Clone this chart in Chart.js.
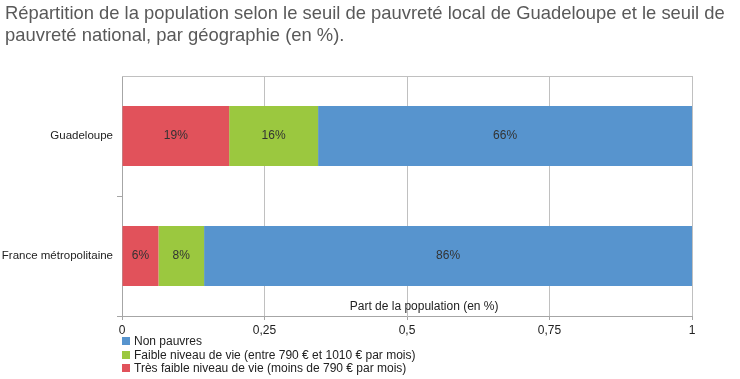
<!DOCTYPE html>
<html>
<head>
<meta charset="utf-8">
<script src="https://cdn.jsdelivr.net/npm/chart.js@4/dist/chart.umd.min.js"></script>
<style>
  html, body { margin: 0; padding: 0; background: #fff; }
  #wrap { position: relative; width: 740px; height: 379px; }
  canvas { display: block; }
  #legend { position: absolute; left: 122px; top: 335px; font-family: "Liberation Sans", Arial, sans-serif; font-size: 12px; color: #222; }
  #legend .row { height: 13.5px; line-height: 13.5px; white-space: nowrap; }
  #legend .sw { display: inline-block; width: 8px; height: 8px; margin-right: 4px; }
</style>
</head>
<body>
<div id="wrap">
  <canvas id="c" width="740" height="379"></canvas>
  <div id="legend"></div>
</div>
<script>
// ---- data ----
const categories = ["Guadeloupe", "France métropolitaine"];
const seriesNames = [
  "Très faible niveau de vie (moins de 790 € par mois)",
  "Faible niveau de vie (entre 790 € et 1010 € par mois)",
  "Non pauvres"
];
const tresFaible = [0.188, 0.064];
const faible = [0.156, 0.080];
const nonPauvres = [0.656, 0.856];
const xTicks = [0, 0.25, 0.5, 0.75, 1];
const titleLines = [
  "Répartition de la population selon le seuil de pauvreté local de Guadeloupe et le seuil de",
  "pauvreté national, par géographie (en %)."
];
const axisTitle = "Part de la population (en %)";

const colors = ["#E1525B", "#9BC83F", "#5794CE"];
const FONT = '"Liberation Sans", Arial, sans-serif';

const valueLabels = {
  id: 'valueLabels',
  afterDatasetsDraw(chart) {
    const ctx = chart.ctx;
    ctx.save();
    ctx.font = '12px ' + FONT;
    ctx.fillStyle = '#333';
    ctx.textAlign = 'center';
    ctx.textBaseline = 'middle';
    chart.data.datasets.forEach((ds, i) => {
      const meta = chart.getDatasetMeta(i);
      meta.data.forEach((el, j) => {
        const cx = (el.x + el.base) / 2;
        ctx.fillText(Math.round(ds.data[j] * 100) + '%', cx, el.y);
      });
    });
    ctx.restore();
  }
};

const frame = {
  id: 'frame',
  beforeDatasetsDraw(chart) {
    const {ctx, chartArea} = chart;
    ctx.save();
    ctx.strokeStyle = '#c0c0c0';
    ctx.lineWidth = 1;
    ctx.beginPath();
    ctx.moveTo(chartArea.left, Math.round(chartArea.top) + 0.5);
    ctx.lineTo(chartArea.right, Math.round(chartArea.top) + 0.5);
    ctx.stroke();
    ctx.restore();
  },
  afterDraw(chart) {
    const {ctx, chartArea} = chart;
    ctx.save();
    // axis title inside plot area
    ctx.font = '12px ' + FONT;
    ctx.fillStyle = '#222';
    ctx.textAlign = 'center';
    ctx.textBaseline = 'middle';
    const x = chartArea.left + (chartArea.right - chartArea.left) * 0.53;
    ctx.fillText(axisTitle, x, chartArea.bottom - 9);
    // chart title
    ctx.font = '18.4px ' + FONT;
    ctx.fillStyle = '#595959';
    ctx.textAlign = 'left';
    titleLines.forEach((t, i) => ctx.fillText(t, 5, 14 + i * 22));
    ctx.restore();
  }
};

const chart = new Chart(document.getElementById('c'), {
  type: 'bar',
  data: {
    labels: categories,
    datasets: [
      { label: seriesNames[0], data: tresFaible, backgroundColor: colors[0] },
      { label: seriesNames[1], data: faible, backgroundColor: colors[1] },
      { label: seriesNames[2], data: nonPauvres, backgroundColor: colors[2] }
    ]
  },
  options: {
    indexAxis: 'y',
    responsive: false,
    animation: false,
    devicePixelRatio: 1,
    layout: { padding: { left: 0, right: 48, top: 76, bottom: 0 } },
    datasets: { bar: { categoryPercentage: 0.5, barPercentage: 1.0, borderWidth: 0 } },
    plugins: {
      legend: { display: false },
      tooltip: { enabled: false },
      title: { display: false }
    },
    scales: {
      x: {
        stacked: true,
        min: 0,
        max: 1,
        afterBuildTicks(scale) { scale.ticks = xTicks.map(v => ({ value: v })); },
        afterFit(scale) { scale.height = 63; },
        grid: { color: '#c0c0c0', tickLength: 4, tickColor: '#a6a6a6' },
        border: { color: '#a6a6a6' },
        ticks: {
          padding: 3,
          color: '#222',
          font: { family: FONT, size: 12 },
          callback: (v) => String(v).replace('.', ',')
        }
      },
      y: {
        stacked: true,
        afterFit(scale) { scale.width = 122; },
        grid: { offset: true, drawOnChartArea: false, tickLength: 5, tickColor: (c) => c.index === 0 ? 'rgba(0,0,0,0)' : '#a6a6a6' },
        border: { color: '#a6a6a6' },
        ticks: { padding: 4, color: '#222', font: { family: FONT, size: 11.5 } }
      }
    }
  },
  plugins: [valueLabels, frame]
});

// HTML legend built from the datasets (reversed order)
const legend = document.getElementById('legend');
chart.data.datasets.slice().reverse().forEach(ds => {
  const row = document.createElement('div');
  row.className = 'row';
  const sw = document.createElement('span');
  sw.className = 'sw';
  sw.style.background = ds.backgroundColor;
  row.appendChild(sw);
  row.appendChild(document.createTextNode(ds.label));
  legend.appendChild(row);
});
</script>
</body>
</html>
